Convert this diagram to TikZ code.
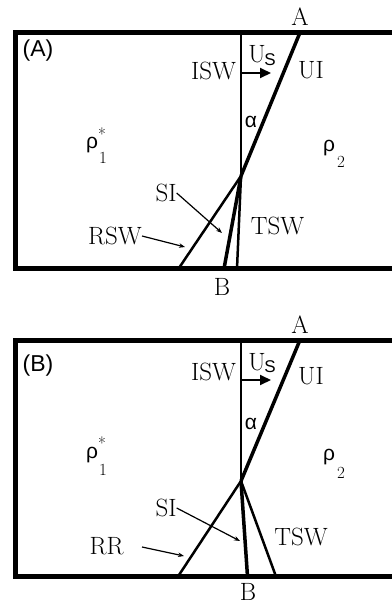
\documentclass[tikz,border=0pt]{standalone}
\usepackage{fontspec}
\newfontfamily\sansf{Liberation Sans}
\usetikzlibrary{arrows.meta}
\tikzset{
  border/.style={line width=5pt, line join=miter},
  vline/.style={line width=2pt},
  heavy/.style={line width=3.5pt},
  wave/.style={line width=2.5pt},
  lbl/.style={inner sep=0pt, font=\fontsize{25}{25}\selectfont},
  slbl/.style={inner sep=0pt, font=\sansf\fontsize{23}{23}\selectfont},
  glbl/.style={inner sep=0pt, font=\sansf\fontsize{21}{21}\selectfont},
  sub/.style={inner sep=0pt, font=\fontsize{17}{17}\selectfont},
  ssub/.style={inner sep=0pt, font=\sansf\fontsize{17}{17}\selectfont},
  usarrow/.style={line width=2pt, -{Triangle[length=11pt,width=10pt]}},
  pointer/.style={line width=1.2pt, -{Stealth[length=6pt,width=4.5pt]}}
}
\begin{document}
\begin{tikzpicture}[x=1pt,y=-1pt]
\useasboundingbox (0,0) rectangle (391,605);
% ---------------- Panel A ----------------
\draw[border] (395,32.5) -- (15.5,32.5) -- (15.5,268.7) -- (395,268.7);
\coordinate (aTop) at (241,32.5);
\coordinate (aA) at (300,32.5);
\coordinate (aX) at (241,176);
\coordinate (aR) at (178.5,268.7);
\coordinate (aS) at (224,268.7);
\coordinate (aT) at (237,268.7);
\draw[vline] (aTop) -- (aX);
\draw[heavy] (aA) -- (aX);
\draw[wave] (aX) -- (aR);
\draw[heavy] (aX) -- (aS);
\draw[wave] (aX) -- (aT);
\node[lbl] (aAl) at (300,17) {A};
\node[slbl] (aPan) at (38,51) {(A)};
\node[lbl] (aISW) at (213.5,71) {ISW};
\node[lbl] (aU) at (257,54) {U};
\node[ssub] (aUs) at (270,60) {S};
\coordinate (aUa0) at (242,73);
\coordinate (aUa1) at (271,73);
\draw[usarrow] (aUa0) -- (aUa1);
\node[lbl] (aUI) at (311,70) {UI};
\node[glbl] (aAlpha) at (251,122) {α};
\node[glbl] (aRho1) at (92,145) {ρ};
\node[sub] (aStar) at (102,134) {*};
\node[sub] (aOne) at (103,158) {1};
\node[glbl] (aRho2) at (329,148) {ρ};
\node[sub] (aTwo) at (341,162) {2};
\node[lbl] (aSI) at (166,193) {SI};
\coordinate (aSIp) at (222,233);
\draw[pointer] (aSI.east) -- (aSIp);
\node[lbl] (aTSW) at (277.5,226) {TSW};
\node[lbl] (aRSW) at (115,236) {RSW};
\coordinate (aRSWp) at (185,247);
\draw[pointer] (aRSW.east) -- (aRSWp);
\node[lbl] (aBl) at (222,287) {B};
% ---------------- Panel B ----------------
\draw[border] (395,340) -- (15.5,340) -- (15.5,576.5) -- (395,576.5);
\coordinate (bTop) at (241,340);
\coordinate (bA) at (300,340);
\coordinate (bX) at (241,481);
\coordinate (bR) at (178,576.5);
\coordinate (bS) at (247.5,576.5);
\coordinate (bT) at (276,576.5);
\draw[vline] (bTop) -- (bX);
\draw[heavy] (bA) -- (bX);
\draw[wave] (bX) -- (bR);
\draw[heavy] (bX) -- (bS);
\draw[wave] (bX) -- (bT);
\node[lbl] (bAl) at (300,325) {A};
\node[slbl] (bPan) at (38,366) {(B)};
\node[lbl] (bISW) at (213.5,372) {ISW};
\node[lbl] (bU) at (257,362) {U};
\node[ssub] (bUs) at (270,367) {S};
\coordinate (bUa0) at (242,380);
\coordinate (bUa1) at (271,380);
\draw[usarrow] (bUa0) -- (bUa1);
\node[lbl] (bUI) at (311,376) {UI};
\node[glbl] (bAlpha) at (251,424) {α};
\node[glbl] (bRho1) at (92,455) {ρ};
\node[sub] (bStar) at (102,443) {*};
\node[sub] (bOne) at (103,470) {1};
\node[glbl] (bRho2) at (329,457) {ρ};
\node[sub] (bTwo) at (341,473) {2};
\node[lbl] (bSI) at (166,508) {SI};
\coordinate (bSIp) at (240,541);
\draw[pointer] (bSI.east) -- (bSIp);
\node[lbl] (bTSW) at (301,537) {TSW};
\node[lbl] (bRR) at (106.5,546) {RR};
\coordinate (bRRp) at (184,556);
\coordinate (bRRs) at (142,547);
\draw[pointer] (bRRs) -- (bRRp);
\node[lbl] (bBl) at (248,591.5) {B};
\end{tikzpicture}
\end{document}
